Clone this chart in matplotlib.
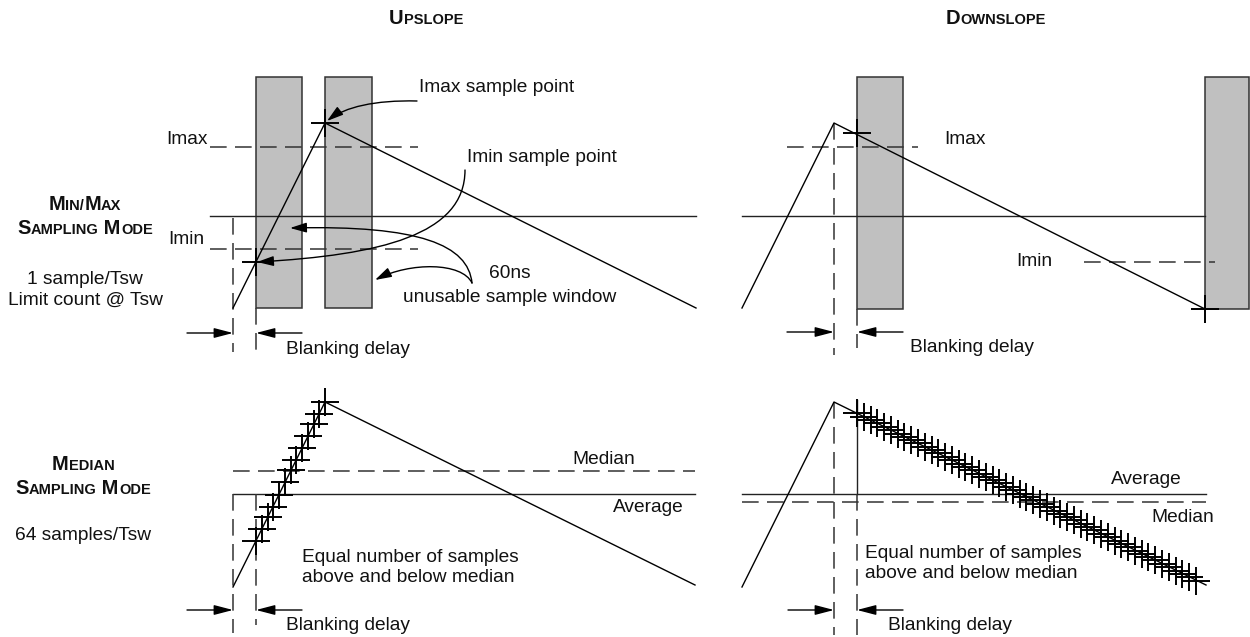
import matplotlib
matplotlib.use('Agg')
import matplotlib.pyplot as plt
from matplotlib.patches import Rectangle, FancyArrowPatch
from matplotlib.path import Path
from matplotlib.offsetbox import TextArea, HPacker, AnnotationBbox

plt.rcParams['font.family'] = ['Liberation Sans', 'DejaVu Sans']
plt.rcParams['lines.scale_dashes'] = False

# ---- diagram data (pixel coordinates, y grows downward) ----
# current waveforms: (x list, y list)
waves = [
    ([233, 325, 696], [308, 123, 308]),     # min/max, upslope
    ([742, 834, 1205], [308, 123, 309]),    # min/max, downslope
    ([233, 325, 695], [587, 402, 585]),     # median, upslope
    ([742, 834, 1206], [587, 402, 585]),    # median, downslope
]

# unusable sample windows: (x, y, w, h)
windows = [(256, 77, 46, 231), (325, 77, 47, 231),
           (857, 77, 46, 232), (1205, 77, 44, 232)]

# single samples of min/max mode
minmax_sx = [325, 256, 857, 1205]
minmax_sy = [123, 262, 133, 309]

# 64 samples of median mode
med_up_x = [256, 262, 268, 273, 279, 285, 291, 296, 302, 308, 314, 319, 325]
med_up_y = [541, 529, 517, 507, 495, 482, 470, 460, 448, 436, 424, 414, 402]
med_dn_x = [857, 864, 871, 877, 884, 891, 898, 904, 911, 918, 925, 932, 938,
            945, 952, 959, 965, 972, 979, 986, 993, 999, 1006, 1013, 1020,
            1026, 1033, 1040, 1047, 1054, 1060, 1067, 1074, 1081, 1087, 1094,
            1101, 1108, 1115, 1121, 1128, 1135, 1142, 1148, 1155, 1162, 1169,
            1176, 1182, 1189, 1196]
med_dn_y = [413, 417, 420, 423, 427, 430, 434, 437, 440, 443, 447, 450, 453,
            457, 460, 464, 467, 470, 474, 477, 480, 483, 487, 490, 494,
            497, 500, 504, 507, 511, 514, 517, 520, 524, 527, 530,
            534, 537, 541, 544, 547, 551, 554, 557, 560, 564, 567,
            571, 574, 577, 581]

# horizontal levels: (x0, x1, y)
solid_levels = [(210, 696, 216), (742, 1205, 216),
                (233, 695, 494), (742, 1206, 494)]
dashed_levels = [(210, 418, 147), (210, 418, 249),
                 (787, 918, 147), (1084, 1215, 262),
                 (233, 695, 471), (742, 1206, 502)]

# blanking markers: (x, y0, y1)
dashed_vert = [(233, 218, 352), (256, 308, 352),
               (834, 123, 355), (857, 309, 348),
               (233, 494, 633), (256, 494, 625),
               (834, 402, 635), (857, 494, 635)]
solid_vert = [(857, 400, 494)]

# blanking delay arrows: (x_from, x_to, y)
blank_arrows = [(187, 233, 333), (302, 256, 333),
                (787, 834, 332), (903, 857, 332),
                (187, 233, 610), (302, 256, 610),
                (788, 834, 610), (903, 857, 610)]

# curved callout arrows: bezier control points
callouts = [
    [(417, 101), (375, 100), (345, 107), (327, 121)],
    [(465, 170), (465, 235), (380, 255), (257, 262)],
    [(472, 283), (468, 245), (420, 225), (290, 228)],
    [(472, 283), (462, 262), (410, 262), (375, 280)],
]

# plain labels: (x, y, text, ha)
labels = [
    (419, 88, 'Imax sample point', 'left'),
    (467, 158, 'Imin sample point', 'left'),
    (510, 273, '60ns', 'center'),
    (510, 298, 'unusable sample window', 'center'),
    (208, 140, 'Imax', 'right'),
    (204, 240, 'Imin', 'right'),
    (944, 139, 'Imax', 'left'),
    (1016, 262, 'Imin', 'left'),
    (286, 349, 'Blanking delay', 'left'),
    (910, 348, 'Blanking delay', 'left'),
    (286, 626, 'Blanking delay', 'left'),
    (888, 626, 'Blanking delay', 'left'),
    (572, 460, 'Median', 'left'),
    (613, 508, 'Average', 'left'),
    (1111, 479, 'Average', 'left'),
    (1151, 517, 'Median', 'left'),
    (302, 557, 'Equal number of samples', 'left'),
    (302, 577, 'above and below median', 'left'),
    (865, 553, 'Equal number of samples', 'left'),
    (865, 574, 'above and below median', 'left'),
    (85, 279, '1 sample/Tsw', 'center'),
    (85, 300, 'Limit count @ Tsw', 'center'),
    (83, 536, '64 samples/Tsw', 'center'),
]

# small-caps headings: (x, y, [(text, is_capital), ...])
headings = [
    (426, 18, [('U', 1), ('PSLOPE', 0)]),
    (996, 18, [('D', 1), ('OWNSLOPE', 0)]),
    (85, 204, [('M', 1), ('IN/', 0), ('M', 1), ('AX', 0)]),
    (85, 229, [('S', 1), ('AMPLING', 0), (' M', 1), ('ODE', 0)]),
    (83, 464, [('M', 1), ('EDIAN', 0)]),
    (83, 488, [('S', 1), ('AMPLING', 0), (' M', 1), ('ODE', 0)]),
]

fs = 13.8
dash = (0, (12, 6))
lw = 1.0

fig = plt.figure(figsize=(12.5, 6.37), dpi=100)
ax = fig.add_axes([0, 0, 1, 1])
ax.set_xlim(0, 1250)
ax.set_ylim(637, 0)
ax.axis('off')

for (x, y, w, h) in windows:
    ax.add_patch(Rectangle((x, y), w, h, facecolor='#c0c0c0',
                           edgecolor='#333333', lw=1.1, zorder=1))

for (x0, x1, y) in solid_levels:
    ax.plot([x0, x1], [y, y], color='#222222', lw=lw, zorder=2)
for (x0, x1, y) in dashed_levels:
    ax.plot([x0, x1], [y, y], color='#333333', lw=1.1, ls=dash, zorder=2)
for (x, y0, y1) in dashed_vert:
    ax.plot([x, x], [y0, y1], color='#333333', lw=1.1, ls=dash, zorder=2)
for (x, y0, y1) in solid_vert:
    ax.plot([x, x], [y0, y1], color='#222222', lw=lw, zorder=2)

for wx, wy in waves:
    ax.plot(wx, wy, color='black', lw=lw, zorder=3)

ax.plot(minmax_sx, minmax_sy, ls='none', marker='+', ms=20, mew=1.4,
        color='black', zorder=4)
ax.plot(med_up_x, med_up_y, ls='none', marker='+', ms=20, mew=1.4,
        color='black', zorder=4)
ax.plot(med_dn_x, med_dn_y, ls='none', marker='+', ms=20, mew=1.4,
        color='black', zorder=4)

for (xa, xb, y) in blank_arrows:
    ax.add_patch(FancyArrowPatch((xa, y), (xb, y),
                 arrowstyle='-|>,head_length=1.15,head_width=0.3',
                 mutation_scale=10, lw=lw, color='black',
                 shrinkA=0, shrinkB=0, zorder=5))

for pts in callouts:
    path = Path(pts, [Path.MOVETO, Path.CURVE4, Path.CURVE4, Path.CURVE4])
    ax.add_patch(FancyArrowPatch(path=path,
                 arrowstyle='-|>,head_length=1.0,head_width=0.3',
                 mutation_scale=10, lw=lw, color='black', zorder=5))

for (x, y, s, ha) in labels:
    ax.text(x, y, s, ha=ha, va='center', fontsize=fs, color='#111111')

for (x, y, parts) in headings:
    boxes = [TextArea(s, textprops=dict(fontsize=14.5 if cap else 10.5,
                                        fontweight='bold', color='#111111'))
             for s, cap in parts]
    pack = HPacker(children=boxes, align='baseline', pad=0, sep=0)
    ax.add_artist(AnnotationBbox(pack, (x, y), xycoords='data',
                                 frameon=False, box_alignment=(0.5, 0.5),
                                 pad=0))

fig.savefig('out.png', dpi=100)
